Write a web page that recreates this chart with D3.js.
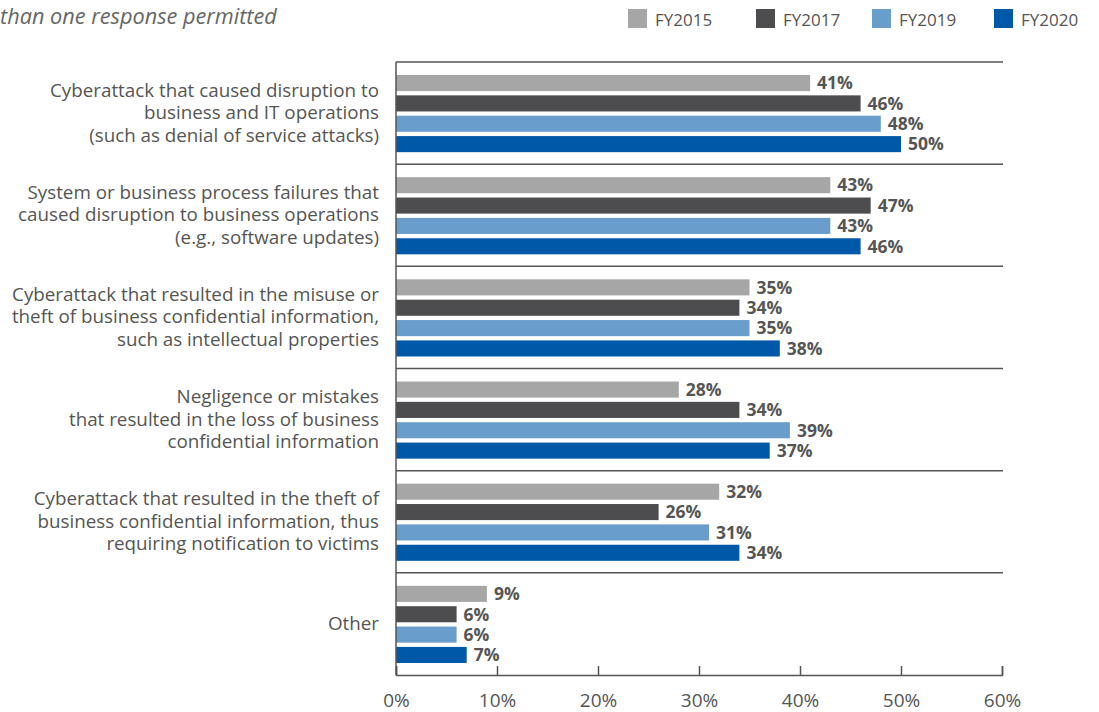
<!DOCTYPE html>
<html>
<head>
<meta charset="utf-8">
<script src="https://cdn.jsdelivr.net/npm/d3@7"></script>
<style>
  body { margin: 0; background: #fff; }
  svg { display: block; font-family: "Open Sans", "Noto Sans", sans-serif; }
</style>
</head>
<body>
<svg id="chart" width="1099" height="712"></svg>
<script>
// Categories (label lines) and series values in percent
const categories = [
  ["Cyberattack that caused disruption to", "business and IT operations", "(such as denial of service attacks)"],
  ["System or business process failures that", "caused disruption to business operations", "(e.g., software updates)"],
  ["Cyberattack that resulted in the misuse or", "theft of business confidential information,", "such as intellectual properties"],
  ["Negligence or mistakes", "that resulted in the loss of business", "confidential information"],
  ["Cyberattack that resulted in the theft of", "business confidential information, thus", "requiring notification to victims"],
  ["Other"]
];
const seriesNames = ["FY2015", "FY2017", "FY2019", "FY2020"];
const fy2015 = [41, 43, 35, 28, 32, 9];
const fy2017 = [46, 47, 34, 34, 26, 6];
const fy2019 = [48, 43, 35, 39, 31, 6];
const fy2020 = [50, 46, 38, 37, 34, 7];
const tickValues = [0, 10, 20, 30, 40, 50, 60];
const subtitle = "than one response permitted";

const seriesValues = [fy2015, fy2017, fy2019, fy2020];
const colors = ["#a6a6a6", "#4d4d4f", "#699dcb", "#0058a8"];

const svg = d3.select("#chart");
const plotLeft = 396, plotRight = 1002, plotTop = 62, plotBottom = 675;

const x = d3.scaleLinear().domain([0, 60]).range([plotLeft, plotRight]);
const y = d3.scaleBand().domain(d3.range(categories.length)).range([plotTop, plotBottom]).padding(0);
const inner = d3.scaleBand().domain(d3.range(seriesNames.length))
  .range([13, y.bandwidth() - 12]).paddingInner(0.21).paddingOuter(0);

// Subtitle
svg.append("text")
  .attr("x", 0).attr("y", 24)
  .attr("font-size", 21.7).attr("font-style", "italic").attr("fill", "#666")
  .text(subtitle);

// Legend
const legend = svg.append("g");
const legendX = [628, 756, 872, 994];
seriesNames.forEach((name, i) => {
  const g = legend.append("g").attr("transform", `translate(${legendX[i]},9)`);
  g.append("rect").attr("width", 19).attr("height", 19).attr("fill", colors[i]);
  g.append("text").attr("x", 27).attr("y", 17).attr("font-size", 17).attr("fill", "#555").text(name);
});

// Group frame: top line and separators between categories
const seps = d3.range(categories.length).map(i => y(i));
svg.append("g").selectAll("line").data(seps).join("line")
  .attr("x1", plotLeft).attr("x2", plotRight + 1)
  .attr("y1", d => d).attr("y2", d => d)
  .attr("stroke", "#555").attr("stroke-width", 1.5);

// Bars
const groups = svg.append("g").selectAll("g").data(categories).join("g")
  .attr("transform", (d, i) => `translate(0,${y(i)})`);

seriesValues.forEach((vals, s) => {
  groups.append("rect")
    .attr("x", x(0))
    .attr("y", inner(s))
    .attr("height", inner.bandwidth())
    .attr("width", (d, i) => x(vals[i]) - x(0))
    .attr("fill", colors[s]);
  groups.append("text")
    .attr("x", (d, i) => x(vals[i]) + 7)
    .attr("y", inner(s) + inner.bandwidth() / 2 + 6.3)
    .attr("font-size", 17.5).attr("font-weight", "bold").attr("fill", "#555")
    .text((d, i) => vals[i] + "%");
});

// Category labels
groups.each(function(lines) {
  const g = d3.select(this);
  const lh = 22.5;
  const mid = y.bandwidth() / 2;
  lines.forEach((line, k) => {
    g.append("text")
      .attr("x", 379)
      .attr("y", mid + (k - (lines.length - 1) / 2) * lh + 6)
      .attr("text-anchor", "end")
      .attr("font-size", 18.8).attr("fill", "#555")
      .text(line);
  });
});

// X axis
const axis = d3.axisBottom(x).tickValues(tickValues).tickSize(-9).tickPadding(19)
  .tickFormat(d => d + "%");
const ax = svg.append("g").attr("transform", `translate(0,${plotBottom})`).call(axis);
ax.select(".domain").attr("stroke", "#555").attr("stroke-width", 1.5);
ax.selectAll(".tick line").attr("stroke", "#555").attr("stroke-width", 1.5);
ax.selectAll(".tick text").attr("font-size", 19).attr("fill", "#555")
  .attr("font-family", "\"Open Sans\", sans-serif");

// Left vertical line
svg.append("line").attr("x1", plotLeft).attr("x2", plotLeft).attr("y1", plotTop).attr("y2", plotBottom)
  .attr("stroke", "#555").attr("stroke-width", 1.5);
</script>
</body>
</html>
